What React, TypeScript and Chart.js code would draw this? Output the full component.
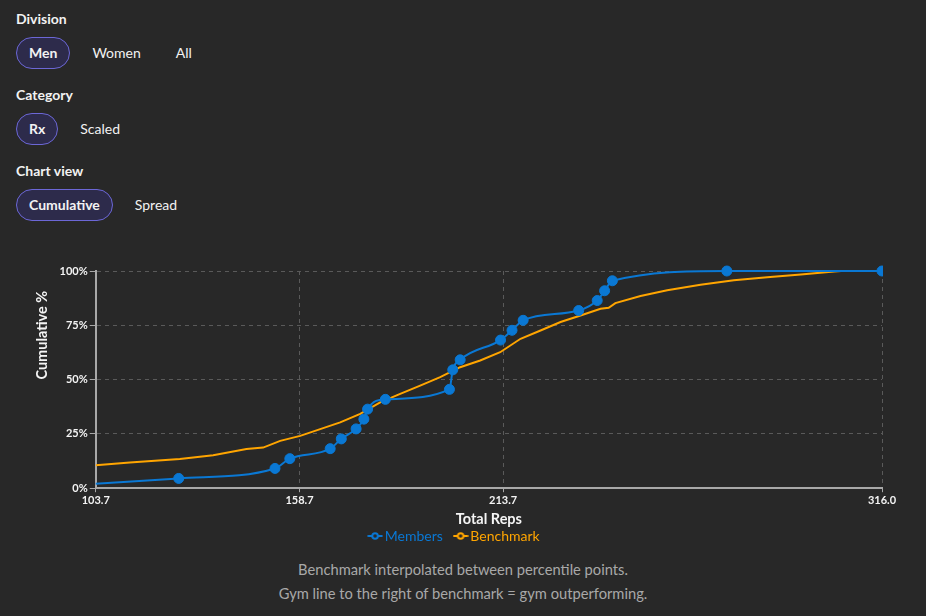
import React, { useEffect, useRef } from "react";
import { Chart, registerables } from "chart.js";

Chart.register(...registerables);

// Member results (total reps) and the cumulative share of members at or below each score
const memberReps = [103.7, 126.1, 152.1, 156.1, 167.0, 170.0, 174.0, 176.1, 177.1, 181.9, 199.2, 200.1, 202.1, 213.0, 216.1, 219.1, 234.1, 239.1, 241.1, 243.2, 274.1, 316.0];
const memberPct = [2.1, 4.5, 9.1, 13.6, 18.2, 22.7, 27.3, 31.8, 36.4, 40.9, 45.5, 54.5, 59.1, 68.2, 72.7, 77.3, 81.8, 86.4, 90.9, 95.5, 100, 100];

// Benchmark curve, interpolated between published percentile points
const benchReps = [103.7, 112.9, 126.4, 135.4, 144.4, 148.9, 153.5, 158.9, 164.3, 169.7, 175.1, 180.5, 185.9, 191.3, 196.7, 202.1, 207.5, 212.9, 218.4, 223.8, 229.2, 234.6, 240.0, 242.2, 244.0, 250.8, 258.0, 267.0, 276.0, 285.0, 294.1, 303.1, 305.0, 316.0];
const benchPct = [10.6, 11.8, 13.4, 15.2, 18.0, 18.7, 21.8, 24.1, 27.2, 30.3, 34.2, 39.5, 43.4, 47.2, 51.1, 55.7, 58.8, 62.6, 68.8, 72.6, 76.5, 79.5, 82.6, 83.1, 85.2, 88.5, 91.1, 93.7, 95.7, 97.1, 98.4, 99.8, 100, 100];

const xTicks = [103.7, 158.7, 213.7, 316.0];
const yTicks = [0, 25, 50, 75, 100];

const X_TITLE = "Total Reps";
const Y_TITLE = "Cumulative %";

const divisions = ["Men", "Women", "All"];
const categories = ["Rx", "Scaled"];
const views = ["Cumulative", "Spread"];
const notes = [
  "Benchmark interpolated between percentile points.",
  "Gym line to the right of benchmark = gym outperforming.",
];

const BG = "#282828";
const BLUE = "#0a78d4";
const ORANGE = "#ffa500";
const TEXT = "#f4f4f4";
const FONT = "'Segoe UI', Lato, 'Noto Sans', sans-serif";

// Small "-o-" legend glyph: line with a hollow circle
function legendGlyph(color: string): HTMLCanvasElement {
  const c = document.createElement("canvas");
  c.width = 16;
  c.height = 10;
  const g = c.getContext("2d")!;
  g.strokeStyle = color;
  g.lineWidth = 2;
  g.beginPath();
  g.moveTo(0.5, 5);
  g.lineTo(15.5, 5);
  g.stroke();
  g.fillStyle = BG;
  g.beginPath();
  g.arc(8, 5, 2.8, 0, Math.PI * 2);
  g.fill();
  g.stroke();
  return c;
}

// Vertical axis title, anchored at the middle of the plot and running upward
const yTitlePlugin = {
  id: "yTitleLeft",
  afterDraw(chart: any) {
    const { ctx, chartArea } = chart;
    ctx.save();
    ctx.translate(26, (chartArea.top + chartArea.bottom) / 2);
    ctx.rotate(-Math.PI / 2);
    ctx.font = `bold 14.5px ${FONT}`;
    ctx.fillStyle = TEXT;
    ctx.textAlign = "left";
    ctx.textBaseline = "middle";
    ctx.fillText(Y_TITLE, 0, 0);
    ctx.restore();
  },
};

function Pills({ items, active }: { items: string[]; active: number }) {
  return (
    <div style={{ display: "flex", alignItems: "center", gap: 9, height: 32, marginBottom: 16 }}>
      {items.map((t, i) => (
        <div
          key={t}
          style={{
            boxSizing: "border-box",
            height: 32,
            lineHeight: "29px",
            padding: "0 12px",
            borderRadius: 16,
            border: i === active ? "1.5px solid #6c67d6" : "1.5px solid transparent",
            background: i === active ? "#2d2b4b" : "transparent",
            color: "#f2f2f2",
            fontSize: 14,
            fontWeight: i === active ? 700 : 400,
          }}
        >
          {t}
        </div>
      ))}
    </div>
  );
}

function Label({ text }: { text: string }) {
  return (
    <div style={{ height: 20, lineHeight: "20px", fontSize: 14, fontWeight: 700, color: "#f2f2f2", marginBottom: 8 }}>
      {text}
    </div>
  );
}

export default function App() {
  const canvasRef = useRef<HTMLCanvasElement | null>(null);

  useEffect(() => {
    document.body.style.margin = "0";
    document.body.style.background = BG;
    const glyphs = [legendGlyph(BLUE), legendGlyph(ORANGE)];
    const chart = new Chart(canvasRef.current!, {
      type: "line",
      data: {
        datasets: [
          {
            label: "Members",
            data: memberReps.map((x, i) => ({ x, y: memberPct[i] })),
            borderColor: BLUE,
            backgroundColor: BLUE,
            borderWidth: 2,
            cubicInterpolationMode: "monotone",
            pointRadius: (ctx: any) => (ctx.dataIndex === 0 ? 0 : 5),
            pointHoverRadius: 6,
            pointBorderWidth: 1,
            clip: { left: 1, right: 1, top: false, bottom: false } as any,
          },
          {
            label: "Benchmark",
            data: benchReps.map((x, i) => ({ x, y: benchPct[i] })),
            borderColor: ORANGE,
            backgroundColor: ORANGE,
            borderWidth: 2,
            tension: 0,
            pointRadius: 0,
          },
        ],
      },
      plugins: [yTitlePlugin],
      options: {
        animation: false,
        responsive: true,
        maintainAspectRatio: false,
        layout: { padding: { left: 14, right: 28, top: 13, bottom: 0 } },
        font: { family: FONT },
        plugins: {
          tooltip: { enabled: false },
          legend: {
            position: "bottom",
            labels: {
              usePointStyle: true,
              pointStyleWidth: 5.5,
              padding: 15,
              font: { family: FONT, size: 14 },
              generateLabels: (c: any) =>
                c.data.datasets.map((ds: any, i: number) => ({
                  text: ds.label,
                  fontColor: ds.borderColor,
                  fillStyle: ds.borderColor,
                  strokeStyle: ds.borderColor,
                  lineWidth: 0,
                  pointStyle: glyphs[i],
                  hidden: !c.isDatasetVisible(i),
                  datasetIndex: i,
                })),
            },
          },
        },
        scales: {
          x: {
            type: "linear",
            min: xTicks[0],
            max: xTicks[xTicks.length - 1],
            afterBuildTicks: (axis: any) => {
              axis.ticks = xTicks.map((v) => ({ value: v }));
            },
            ticks: {
              color: TEXT,
              font: { family: FONT, size: 11, weight: "bold" },
              padding: 2,
              maxRotation: 0,
              autoSkip: false,
              callback: (v: any) => Number(v).toFixed(1),
            },
            grid: {
              color: "#5a5a5a",
              tickColor: "#a8a8a8",
              tickLength: 4,
              tickBorderDash: [],
            } as any,
            border: { display: true, color: "#a8a8a8", width: 2, dash: [4, 4] } as any,
            title: {
              display: true,
              text: X_TITLE,
              color: TEXT,
              font: { family: FONT, size: 14.5, weight: "bold" },
              padding: { top: 1, bottom: -13.8 },
            },
          },
          y: {
            min: 0,
            max: 100,
            afterBuildTicks: (axis: any) => {
              axis.ticks = yTicks.map((v) => ({ value: v }));
            },
            // leave room on the left for the axis title drawn by yTitlePlugin
            afterFit: (axis: any) => {
              axis.width += 27.6;
            },
            ticks: {
              color: TEXT,
              font: { family: FONT, size: 11, weight: "bold" },
              padding: 2,
              callback: (v: any) => `${v}%`,
            },
            grid: {
              color: "#5a5a5a",
              tickColor: "#a8a8a8",
              tickLength: 6,
              tickBorderDash: [],
            } as any,
            border: { display: true, color: "#a8a8a8", width: 2, dash: [4, 4] } as any,
          },
        },
      } as any,
    });
    return () => chart.destroy();
  }, []);

  return (
    <div style={{ fontFamily: FONT, color: "#f2f2f2", padding: "9px 16px 0 16px", width: 894 }}>
      <Label text="Division" />
      <Pills items={divisions} active={0} />
      <Label text="Category" />
      <Pills items={categories} active={0} />
      <Label text="Chart view" />
      <Pills items={views} active={0} />
      <div style={{ position: "relative", width: 894, height: 295, marginTop: 37 }}>
        <canvas ref={canvasRef} />
      </div>
      <div style={{ marginTop: 4, textAlign: "center", color: "#a8a8a8", fontSize: 14.7, lineHeight: "24px" }}>
        {notes.map((n) => (
          <div key={n}>{n}</div>
        ))}
      </div>
    </div>
  );
}
